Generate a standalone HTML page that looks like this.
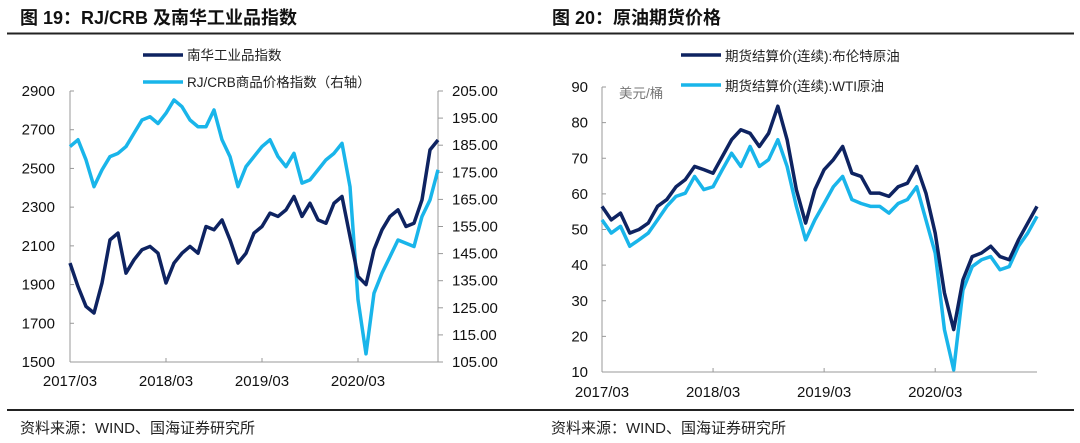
<!DOCTYPE html>
<html><head><meta charset="utf-8">
<style>
body{margin:0;width:1080px;height:443px;background:#fff;overflow:hidden;font-family:"Liberation Sans","Noto Sans CJK SC",sans-serif;}
svg{display:block}
</style></head>
<body>
<svg id="c" width="1080" height="443"></svg>
<script>
// Left chart data (monthly, 2017/03 .. 2021/01)
const nanhua=[2011,1890,1787,1753,1908,2131,2166,1959,2028,2080,2097,2062,1908,2011,2062,2097,2062,2200,2183,2234,2131,2011,2062,2166,2200,2269,2252,2286,2355,2252,2320,2234,2217,2320,2355,2148,1942,1900,2080,2183,2252,2286,2200,2217,2338,2596,2647];
const rjcrb=[184.5,187,179.6,169.7,175.9,180.8,182,184.5,189.4,194.3,195.5,193,196.8,201.7,199.2,194.3,191.8,191.8,198,187,180.8,169.7,177.1,180.8,184.5,187,180.8,177.1,182,171,172.2,175.9,179.6,182,185.7,169.7,128,108,130.4,137.8,143.9,150,148.8,147.6,158.7,164.8,175.9];
const leftTicks=[1500,1700,1900,2100,2300,2500,2700,2900];
const rightTicks=[105,115,125,135,145,155,165,175,185,195,205];
const xTickLabels=["2017/03","2018/03","2019/03","2020/03"];
// Right chart data
const brent=[56.5,52.7,54.6,49,50,51.8,56.5,58.4,62,64,67.7,66.8,65.8,70.5,75.2,78,77,73.3,77,84.6,75.2,61.2,51.8,61.2,66.8,69.6,73.3,65.8,64.9,60.2,60.2,59.3,62,63,67.7,60.2,49,32.2,21.9,35.9,42.4,43.4,45.3,42.4,41.5,47.1,51.8,56.5];
const wti=[52.7,49,50.9,45.3,47.1,49,52.7,56.5,59.3,60.2,64.9,61.2,62,66.8,71.4,67.7,73.3,67.7,69.6,75.2,67.7,56.5,47.1,52.7,57.3,62,64.9,58.4,57.3,56.5,56.5,54.6,57.3,58.4,62,52.7,43.4,21.9,10.6,33,39.6,41.5,42.4,38.7,39.6,45.3,49,53.7];
const oilTicks=[10,20,30,40,50,60,70,80,90];

const NS="http://www.w3.org/2000/svg";
const svg=document.getElementById('c');
function mk(tag,attrs,parent){const e=document.createElementNS(NS,tag);for(const k in attrs)e.setAttribute(k,attrs[k]);(parent||svg).appendChild(e);return e;}
function txt(s,attrs,parent){const e=mk('text',attrs,parent);e.textContent=s;return e;}
const DARK="#0e2361",LIGHT="#19b5ea",AX="#999";

let t=txt("图 19：RJ/CRB 及南华工业品指数",{x:20,y:24,"font-size":18,"font-weight":"bold",fill:"#111"});

t=txt("图 20：原油期货价格",{x:552,y:24,"font-size":18,"font-weight":"bold",fill:"#111"});

mk('line',{x1:7,y1:33.5,x2:1074,y2:33.5,stroke:"#222","stroke-width":2});
mk('line',{x1:7,y1:410,x2:1074,y2:410,stroke:"#222","stroke-width":2});
t=txt("资料来源：WIND、国海证券研究所",{x:20,y:433,"font-size":15,fill:"#222"});

t=txt("资料来源：WIND、国海证券研究所",{x:551,y:433,"font-size":15,fill:"#222"});


// ---- Left chart
const L={x0:70,x1:438,y0:362,y1:91,n:46};
const lx=i=>L.x0+(L.x1-L.x0)*i/L.n;
const ly=v=>L.y0-(v-1500)/(2900-1500)*(L.y0-L.y1);
const ry=v=>L.y0-(v-105)/(205-105)*(L.y0-L.y1);
const gL=mk('g',{});
mk('line',{x1:L.x0,y1:L.y1,x2:L.x0,y2:L.y0,stroke:AX},gL);
mk('line',{x1:L.x0,y1:L.y0,x2:L.x1,y2:L.y0,stroke:AX},gL);
mk('line',{x1:L.x1,y1:L.y1,x2:L.x1,y2:L.y0,stroke:AX},gL);
leftTicks.forEach(v=>{mk('line',{x1:L.x0,y1:ly(v),x2:L.x0+4,y2:ly(v),stroke:AX},gL);
 const e=txt(String(v),{x:55,y:ly(v)+5,"font-size":15,"text-anchor":"end",fill:"#111"},gL);
 });
rightTicks.forEach(v=>{mk('line',{x1:L.x1,y1:ry(v),x2:L.x1+5,y2:ry(v),stroke:AX},gL);
 const e=txt(v.toFixed(2),{x:452,y:ry(v)+5,"font-size":15,fill:"#111"},gL);
 });
xTickLabels.forEach((s,k)=>{const x=lx(k*12);mk('line',{x1:x,y1:L.y0,x2:x,y2:L.y0-4,stroke:AX},gL);
 const e=txt(s,{x:x,y:386,"font-size":15,"text-anchor":"middle",fill:"#111"},gL);
 });
let p=mk('polyline',{points:rjcrb.map((v,i)=>lx(i)+","+ry(v)).join(" "),fill:"none",stroke:LIGHT,"stroke-width":3.5,"stroke-linejoin":"round"},gL);

p=mk('polyline',{points:nanhua.map((v,i)=>lx(i)+","+ly(v)).join(" "),fill:"none",stroke:DARK,"stroke-width":3.5,"stroke-linejoin":"round"},gL);

mk('line',{x1:143,y1:55,x2:183,y2:55,stroke:DARK,"stroke-width":3.5},gL);
t=txt("南华工业品指数",{x:187,y:60,"font-size":13.5,fill:"#222"},gL);

mk('line',{x1:143,y1:82,x2:183,y2:82,stroke:LIGHT,"stroke-width":3.5},gL);
t=txt("RJ/CRB商品价格指数（右轴）",{x:187,y:87,"font-size":13.5,fill:"#222"},gL);


// ---- Right chart
const R={x0:602,x1:1037,y0:372,y1:87,n:47};
const ox=i=>R.x0+(R.x1-R.x0)*i/R.n;
const oy=v=>R.y0-(v-10)/(90-10)*(R.y0-R.y1);
const gR=mk('g',{});
mk('line',{x1:R.x0,y1:R.y1,x2:R.x0,y2:R.y0,stroke:AX},gR);
mk('line',{x1:R.x0,y1:R.y0,x2:R.x1,y2:R.y0,stroke:AX},gR);
oilTicks.forEach(v=>{mk('line',{x1:R.x0,y1:oy(v),x2:R.x0+4,y2:oy(v),stroke:AX},gR);
 const e=txt(String(v),{x:588,y:oy(v)+5,"font-size":15,"text-anchor":"end",fill:"#111"},gR);
 });
xTickLabels.forEach((s,k)=>{const x=ox(k*12);mk('line',{x1:x,y1:R.y0,x2:x,y2:R.y0-4,stroke:AX},gR);
 const e=txt(s,{x:x,y:397,"font-size":15,"text-anchor":"middle",fill:"#111"},gR);
 });
t=txt("美元/桶",{x:619,y:98,"font-size":13.5,fill:"#777"},gR);

p=mk('polyline',{points:wti.map((v,i)=>ox(i)+","+oy(v)).join(" "),fill:"none",stroke:LIGHT,"stroke-width":3.5,"stroke-linejoin":"round"},gR);

p=mk('polyline',{points:brent.map((v,i)=>ox(i)+","+oy(v)).join(" "),fill:"none",stroke:DARK,"stroke-width":3.5,"stroke-linejoin":"round"},gR);

mk('line',{x1:681,y1:55,x2:721,y2:55,stroke:DARK,"stroke-width":3.5},gR);
t=txt("期货结算价(连续):布伦特原油",{x:725,y:61,"font-size":13.5,fill:"#222"},gR);

mk('line',{x1:681,y1:85,x2:721,y2:85,stroke:LIGHT,"stroke-width":3.5},gR);
t=txt("期货结算价(连续):WTI原油",{x:725,y:91,"font-size":13.5,fill:"#222"},gR);

</script>
</body></html>
